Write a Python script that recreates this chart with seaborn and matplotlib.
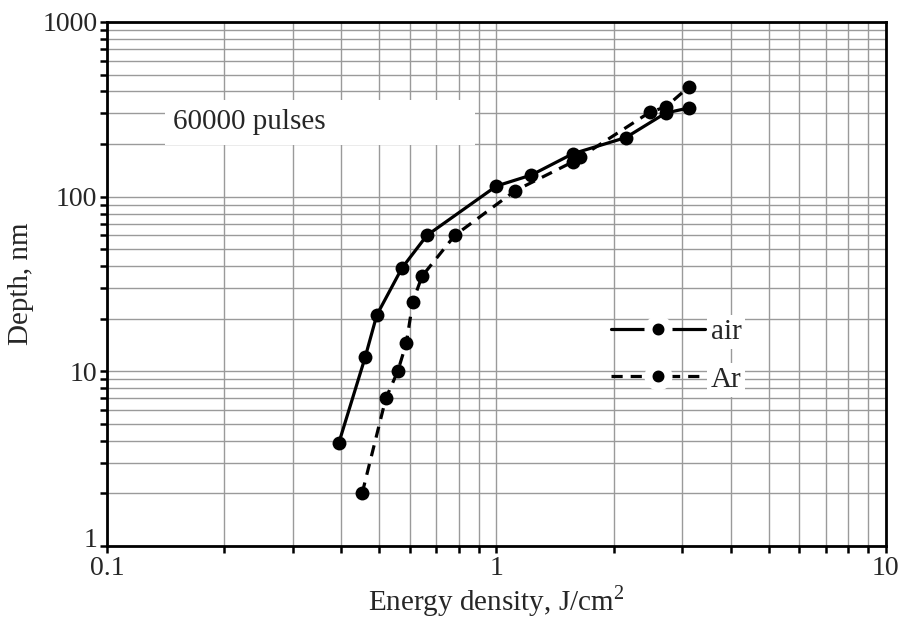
import numpy as np
import pandas as pd
import matplotlib
matplotlib.use("Agg")
import matplotlib.pyplot as plt
import matplotlib.ticker as mticker
import matplotlib.transforms as mtrans
from matplotlib.patches import Rectangle
from matplotlib.lines import Line2D
import seaborn as sns

# data
air_energy = [0.394, 0.46, 0.493, 0.572, 0.663, 1.0, 1.23, 1.57, 2.15, 2.72, 3.12]
air_depth = [3.9, 12, 21, 39, 60, 115, 133, 176, 218, 301, 322]

ar_energy = [0.452, 0.52, 0.558, 0.587, 0.61, 0.644, 0.782, 1.116, 1.57, 1.64, 2.48, 2.72, 3.12]
ar_depth = [2.0, 7, 10, 14.5, 25, 35, 60, 108, 158, 168, 305, 326, 425]

gas_labels = ["air", "Ar"]
note_text = "60000 pulses"
x_ticks = [0.1, 1, 10]
y_ticks = [1, 10, 100, 1000]

df = pd.DataFrame({
    "energy": air_energy + ar_energy,
    "depth": air_depth + ar_depth,
    "gas": ["air"] * len(air_energy) + ["Ar"] * len(ar_energy),
})

sns.set_style("white")
plt.rcParams["font.family"] = ["Liberation Serif", "DejaVu Serif"]
plt.rcParams["mathtext.fontset"] = "custom"
plt.rcParams["mathtext.rm"] = "Liberation Serif"

fig = plt.figure(figsize=(9.03, 6.19), dpi=100)
ax = fig.add_axes([0.1185, 0.118, 0.8625, 0.8465])

sns.lineplot(data=df, x="energy", y="depth", style="gas", style_order=gas_labels,
             dashes={"air": "", "Ar": (3.5, 2.5)}, markers={"air": "o", "Ar": "o"},
             color="black", linewidth=2.3, markersize=10, markeredgewidth=0,
             estimator=None, sort=True, legend=False, ax=ax, zorder=3)

ax.set_xscale("log")
ax.set_yscale("log")
ax.set_xlim(0.1, 10)
ax.set_ylim(1, 1000)

ax.xaxis.set_major_locator(mticker.FixedLocator(x_ticks))
ax.yaxis.set_major_locator(mticker.FixedLocator(y_ticks))
ax.xaxis.set_minor_locator(mticker.LogLocator(base=10, subs=np.arange(2, 10)))
ax.yaxis.set_minor_locator(mticker.LogLocator(base=10, subs=np.arange(2, 10)))
fmt = mticker.FuncFormatter(lambda v, p: "{:g}".format(v))
ax.xaxis.set_major_formatter(fmt)
ax.yaxis.set_major_formatter(fmt)
ax.xaxis.set_minor_formatter(mticker.NullFormatter())
ax.yaxis.set_minor_formatter(mticker.NullFormatter())

ax.grid(True, which="both", color="#9a9a9a", linewidth=1.0)
ax.set_axisbelow(True)
for s in ax.spines.values():
    s.set_color("black")
    s.set_linewidth(2.0)
ax.tick_params(which="both", direction="out", length=5, width=1.8, color="black",
               labelsize=20, pad=2, top=False, right=False, left=True, bottom=True)

# lift the lowest y label a little so it clears "0.1"
lbl = ax.yaxis.get_majorticklabels()[0]
lbl.set_transform(lbl.get_transform() + mtrans.ScaledTranslation(0, 6 / 72, fig.dpi_scale_trans))

ax.set_xlabel("Energy density, J/cm$^2$", fontsize=21, labelpad=2)
ax.set_ylabel("Depth, nm", fontsize=21, labelpad=6)

# white panel behind the note
ax.add_patch(Rectangle((0.0745, 0.765), 0.398, 0.086, transform=ax.transAxes,
                       facecolor="white", edgecolor="none", zorder=1.5))
ax.text(0.085, 0.81, note_text, transform=ax.transAxes, fontsize=21,
        va="center", ha="left", zorder=2)

# legend with white gaps around the markers
handles = [
    Line2D([], [], color="black", linewidth=2.3, marker="o", markersize=14.4,
           markeredgecolor="white", markeredgewidth=5.8),
    Line2D([], [], color="black", linewidth=2.3, linestyle=(0, (3.5, 2.5)), marker="o",
           markersize=14.4, markeredgecolor="white", markeredgewidth=5.8),
]
leg = ax.legend(handles, gas_labels, loc="center left", bbox_to_anchor=(0.614, 0.363),
                frameon=False, fontsize=21, handlelength=3.2, handletextpad=0.2,
                labelspacing=0.72)
for t in leg.get_texts():
    t.set_bbox(dict(facecolor="white", edgecolor="none", pad=3))

fig.savefig("out.png", dpi=100)
